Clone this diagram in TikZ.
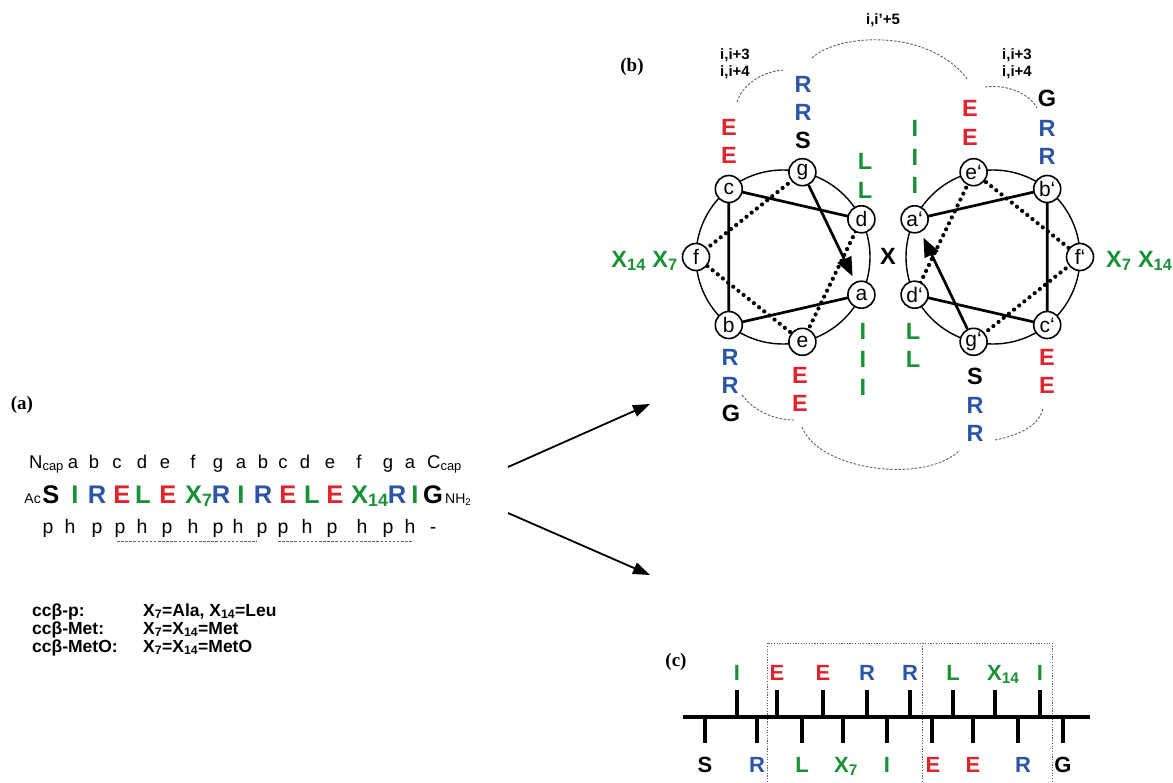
\documentclass[tikz,border=0pt]{standalone}
\usepackage{fontspec}
\setmainfont{Liberation Sans}
\newfontfamily\serifbf{Liberation Serif}
\usetikzlibrary{arrows.meta,backgrounds}
\definecolor{cred}{RGB}{225,35,45}
\definecolor{cblue}{RGB}{45,85,165}
\definecolor{cgreen}{RGB}{25,145,55}
\definecolor{dgray}{RGB}{95,95,95}
\newcommand\fsz[1]{\fontsize{#1}{#1}\selectfont}
\begin{document}
\begin{tikzpicture}[x=1pt,y=-1pt,
  every node/.style={inner sep=0pt},
  res/.style={circle,draw,line width=1.6pt,fill=white,minimum size=27pt,font=\fsz{21}},
  wlab/.style={font=\fsz{23.5}\bfseries},
  solidl/.style={line width=2.7pt},
  dotl/.style={line width=4.2pt,line cap=round,dash pattern=on 0pt off 6.6pt},
  arcd/.style={dgray,line width=0.9pt,dash pattern=on 2.5pt off 1.6pt},
  note/.style={font=\fsz{15}\bfseries},
  panel/.style={font=\serifbf\fsz{19}\bfseries},
  seqa/.style={anchor=base,font=\fsz{18.5}},
  seqb/.style={anchor=base,font=\fsz{25.5}\bfseries},
  seqc/.style={anchor=base,font=\fsz{19.5}},
  tick/.style={line width=4pt},
  clab/.style={anchor=base,font=\fsz{22}\bfseries},
  bigarrow/.style={line width=1.8pt,-{Triangle[length=17pt,width=12pt]}},
  wheelarrow/.style={line width=2.7pt,-{Triangle[length=19pt,width=15pt]},shorten >=6pt},
  boxd/.style={dgray,line width=0.9pt,dash pattern=on 1.2pt off 1.5pt},
  vtext/.style={anchor=base west,font=\fsz{17.5}\bfseries},
]
\useasboundingbox (0,0) rectangle (1173,782);

% ---------- panel labels
\node[panel] (la) at (22,405) {(a)};
\node[panel] (lb) at (632,67) {(b)};
\node[panel] (lc) at (676,662) {(c)};

% ---------- (a) sequence
\node[seqa,anchor=base west] (ncap) at (29,468) {N\textsubscript{cap}};
\foreach \x/\t [count=\i] in {73/a,94/b,117/c,142/d,165/e,193/f,218/g,241/a,263/b,283/c,305/d,330/e,359/f,388/g,410/a}
  \node[seqa] (hp\i) at (\x,468) {\t};
\node[seqa,anchor=base west] (ccap) at (427,468) {C\textsubscript{cap}};

\node[anchor=base east,font=\fsz{14}] (ac) at (41,503) {Ac};
\foreach \x/\t/\c [count=\i] in {51/S/black,75/I/cgreen,97/R/cblue,122/E/cred,143/L/cgreen,168/E/cred,221/R/cblue,241/I/cgreen,263/R/cblue,288/E/cred,312/L/cgreen,335/E/cred,397/R/cblue,415/I/cgreen,433/G/black}
  \node[seqb,text=\c] (sq\i) at (\x,503) {\t};
\node[seqb,anchor=base west,text=cgreen] (x7) at (185,503) {X\textsubscript{7}};
\node[seqb,anchor=base west,text=cgreen] (x14) at (351,503) {X\textsubscript{14}};
\node[anchor=base west,font=\fsz{14}] (nh2) at (445,503) {NH\textsubscript{2}};

\foreach \x/\t [count=\i] in {48/p,70/h,97/p,120/p,142/h,167/p,193/h,218/p,238/h,262/p,283/p,307/h,332/p,362/h,388/p,410/h,433/-}
  \node[seqc] (ph\i) at (\x,533) {\t};
\coordinate (u1s) at (117,541); \coordinate (u1e) at (257,541);
\coordinate (u2s) at (278,541); \coordinate (u2e) at (413,541);
\draw[arcd] (u1s) -- (u1e);
\draw[arcd] (u2s) -- (u2e);

% ---------- variants
\node[vtext] (v1) at (32,616) {ccβ-p:};
\node[vtext] (v1x) at (143,616) {X\textsubscript{7}=Ala, X\textsubscript{14}=Leu};
\node[vtext] (v2) at (32,634) {ccβ-Met:};
\node[vtext] (v2x) at (143,634) {X\textsubscript{7}=X\textsubscript{14}=Met};
\node[vtext] (v3) at (32,652) {ccβ-MetO:};
\node[vtext] (v3x) at (143,652) {X\textsubscript{7}=X\textsubscript{14}=MetO};

% ---------- arrows
\coordinate (arAs) at (508,467); \coordinate (arAe) at (650,404);
\coordinate (arBs) at (508,513); \coordinate (arBe) at (650,575);
\draw[bigarrow] (arAs) -- (arAe);
\draw[bigarrow] (arBs) -- (arBe);

% ---------- (b) helical wheels
\node[res] (a) at (861.4,294.7) {a};
\node[res] (b) at (728.8,325) {b};
\node[res] (c) at (728.8,189) {c};
\node[res] (d) at (861.4,219.3) {d};
\node[res] (e) at (802.4,341.8) {e};
\node[res] (f) at (696,257) {f};
\node[res] (g) at (802.4,172.2) {g};

\node[res] (a2) at (914.6,219.3) {a‘};
\node[res] (b2) at (1047.2,189) {b‘};
\node[res] (c2) at (1047.2,325) {c‘};
\node[res] (d2) at (914.6,294.7) {d‘};
\node[res] (e2) at (973.6,172.2) {e‘};
\node[res] (f2) at (1080,257) {f‘};
\node[res] (g2) at (973.6,341.8) {g‘};

\begin{pgfonlayer}{background}
  \draw[line width=1.4pt] (783,257) circle[radius=87];
  \draw[line width=1.4pt] (993,257) circle[radius=87];
  \draw[solidl] (a.center) -- (b.center) -- (c.center) -- (d.center);
  \draw[dotl] (d.center) -- (e.center) -- (f.center) -- (g.center);
  \draw[solidl] (a2.center) -- (b2.center) -- (c2.center) -- (d2.center);
  \draw[dotl] (d2.center) -- (e2.center) -- (f2.center) -- (g2.center);
\end{pgfonlayer}
\draw[wheelarrow] (g) -- (a);
\draw[wheelarrow] (g2) -- (a2);

% left wheel residues
\node[wlab,text=cred] (lc1) at (729,127) {E};
\node[wlab,text=cred] (lc2) at (729,155) {E};
\node[wlab,text=cblue] (lg1) at (803,84) {R};
\node[wlab,text=cblue] (lg2) at (803,112) {R};
\node[wlab] (lg3) at (803,140) {S};
\node[wlab,text=cgreen] (ld1) at (865,161) {L};
\node[wlab,text=cgreen] (ld2) at (865,190) {L};
\node[wlab,text=cblue] (lb1) at (730,357) {R};
\node[wlab,text=cblue] (lb2) at (730,385) {R};
\node[wlab] (lb3) at (731,413) {G};
\node[wlab,text=cred] (le1) at (800,375) {E};
\node[wlab,text=cred] (le2) at (800,403) {E};
\node[wlab,text=cgreen] (la1) at (863,331) {I};
\node[wlab,text=cgreen] (la2) at (863,359) {I};
\node[wlab,text=cgreen] (la3) at (863,387) {I};
\node[wlab,text=cgreen,anchor=base east] (lf) at (678,267) {X\textsubscript{14} X\textsubscript{7}};
\node[wlab] (xx) at (888,256) {X};

% right wheel residues
\node[wlab,text=cgreen] (ra1) at (915,128) {I};
\node[wlab,text=cgreen] (ra2) at (915,157) {I};
\node[wlab,text=cgreen] (ra3) at (915,185) {I};
\node[wlab,text=cred] (re1) at (970,108) {E};
\node[wlab,text=cred] (re2) at (970,137) {E};
\node[wlab] (rb1) at (1047,98) {G};
\node[wlab,text=cblue] (rb2) at (1047,128) {R};
\node[wlab,text=cblue] (rb3) at (1047,156) {R};
\node[wlab,text=cgreen] (rd1) at (913,331) {L};
\node[wlab,text=cgreen] (rd2) at (913,359) {L};
\node[wlab] (rg1) at (975,376) {S};
\node[wlab,text=cblue] (rg2) at (975,405) {R};
\node[wlab,text=cblue] (rg3) at (975,433) {R};
\node[wlab,text=cred] (rc1) at (1047,357) {E};
\node[wlab,text=cred] (rc2) at (1047,385) {E};
\node[wlab,text=cgreen,anchor=base west] (rf) at (1106,267) {X\textsubscript{7} X\textsubscript{14}};

% interaction notes
\node[note] (n1a) at (735,55) {i,i+3};
\node[note] (n1b) at (735,72) {i,i+4};
\node[note] (n2a) at (1017,55) {i,i+3};
\node[note] (n2b) at (1017,72) {i,i+4};
\node[note] (n3) at (883,20) {i,i'+5};

% dashed arcs
\coordinate (t1s) at (737,102); \coordinate (t1e) at (783,70);
\draw[arcd] (t1s) .. controls (742,86) and (760,72) .. (t1e);
\coordinate (t2s) at (812,58); \coordinate (t2e) at (968,80);
\draw[arcd] (t2s) .. controls (838,33) and (930,28) .. (t2e);
\coordinate (t3s) at (985,87); \coordinate (t3e) at (1037,108);
\draw[arcd] (t3s) .. controls (1010,84) and (1030,95) .. (t3e);
\coordinate (b1s) at (742,395); \coordinate (b1e) at (795,420);
\draw[arcd] (b1s) .. controls (755,412) and (775,420) .. (b1e);
\coordinate (b2s) at (802,427); \coordinate (b2e) at (960,450);
\draw[arcd] (b2s) .. controls (818,470) and (925,485) .. (b2e);
\coordinate (b3s) at (995,440); \coordinate (b3e) at (1043,408);
\draw[arcd] (b3s) .. controls (1020,435) and (1040,425) .. (b3e);

% ---------- (c) linear representation
\draw[boxd] (767,782) -- (767,643) -- (1052,643) -- (1052,782);
\draw[boxd] (922,643) -- (922,782);
\coordinate (bbs) at (683,717); \coordinate (bbe) at (1090,717);
\draw[line width=4.5pt] (bbs) -- (bbe);
\foreach \x in {737,777,823,867,910,953,995,1040} \draw[tick] (\x,717) -- (\x,690);
\foreach \x in {705,757,802,843,887,932,973,1018,1063} \draw[tick] (\x,717) -- (\x,743);
\foreach \x/\t/\c [count=\i] in {737/I/cgreen,777/E/cred,823/E/cred,867/R/cblue,910/R/cblue,953/L/cgreen,1040/I/cgreen}
  \node[clab,text=\c] (ct\i) at (\x,680) {\t};
\node[clab,anchor=base west,text=cgreen] (ctx) at (987,680) {X\textsubscript{14}};
\foreach \x/\t/\c [count=\i] in {705/S/black,757/R/cblue,802/L/cgreen,887/I/cgreen,933/E/cred,973/E/cred,1023/R/cblue,1063/G/black}
  \node[clab,text=\c] (cb\i) at (\x,772) {\t};
\node[clab,anchor=base west,text=cgreen] (cbx) at (834,772) {X\textsubscript{7}};
\end{tikzpicture}
\end{document}
